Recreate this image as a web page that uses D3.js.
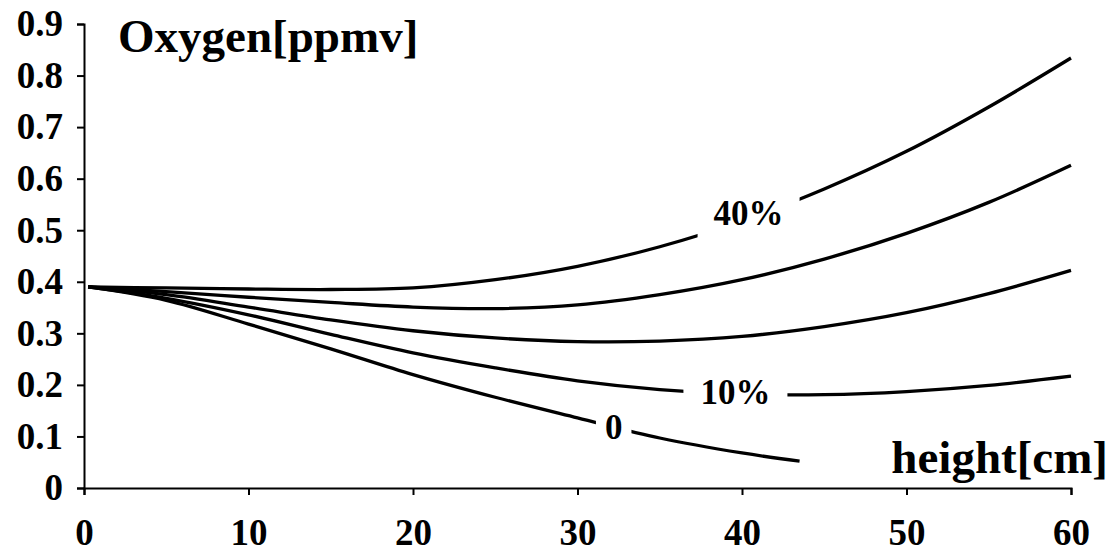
<!DOCTYPE html>
<html>
<head>
<meta charset="utf-8">
<script src="https://cdn.jsdelivr.net/npm/d3@7"></script>
<style>
  html, body { margin: 0; padding: 0; background: #fff; }
  svg { display: block; }
  text { font-family: "Liberation Serif", "Times New Roman", Times, serif; font-weight: bold; fill: #000; }
</style>
</head>
<body>
<div id="chart"></div>
<script>
// ---- data ----
const xValues = [0.25, 5, 10, 15, 20, 25, 30, 35, 40, 45, 50, 55, 60];
const series40 = [0.390, 0.388, 0.386, 0.385, 0.388, 0.404, 0.430, 0.468, 0.518, 0.580, 0.653, 0.739, 0.834];
const series30 = [0.390, 0.381, 0.370, 0.360, 0.351, 0.348, 0.355, 0.375, 0.404, 0.444, 0.494, 0.554, 0.626];
const series20 = [0.390, 0.375, 0.351, 0.326, 0.305, 0.291, 0.284, 0.285, 0.294, 0.313, 0.340, 0.377, 0.422];
const series10 = [0.390, 0.368, 0.336, 0.298, 0.262, 0.233, 0.208, 0.191, 0.182, 0.181, 0.187, 0.199, 0.217];
const xValues0 = [0.25, 5, 10, 15, 20, 25, 30, 35, 40, 43.5];
const series0  = [0.390, 0.364, 0.318, 0.270, 0.220, 0.176, 0.136, 0.097, 0.068, 0.052];

const xTicks = [0, 10, 20, 30, 40, 50, 60];
const yTicks = [0, 0.1, 0.2, 0.3, 0.4, 0.5, 0.6, 0.7, 0.8, 0.9];
const yTickLabels = ["0", "0.1", "0.2", "0.3", "0.4", "0.5", "0.6", "0.7", "0.8", "0.9"];

const curveLabels = ["40%", "10%", "0"];
const curveLabelX = [40.4, 39.6, 32.2];
const curveLabelY = [0.533, 0.186, 0.118];
const curveLabelPad = [16, 17, 9];

const yTitle = "Oxygen[ppmv]";
const xTitle = "height[cm]";

// ---- layout ----
const W = 1116, H = 553;
const margin = { left: 84, right: 45, top: 24, bottom: 65 };

const svg = d3.select("#chart").append("svg").attr("width", W).attr("height", H);

const x = d3.scaleLinear().domain([0, 60]).range([margin.left, W - margin.right]);
const y = d3.scaleLinear().domain([0, 0.9]).range([H - margin.bottom, margin.top]);

// axes
const xAxis = d3.axisBottom(x).tickValues(xTicks).tickFormat(d3.format("d")).tickSizeOuter(0).tickSize(7).tickPadding(24);
const yAxis = d3.axisLeft(y).tickValues(yTicks).tickFormat((d, i) => yTickLabels[i]).tickSizeOuter(0).tickSize(7).tickPadding(14);

const gx = svg.append("g").attr("transform", `translate(0,${y(0)})`).call(xAxis);
const gy = svg.append("g").attr("transform", `translate(${x(0)},0)`).call(yAxis);
[gx, gy].forEach(g => {
  g.selectAll("path.domain").attr("stroke", "#000").attr("stroke-width", 2);
  g.selectAll(".tick line").attr("stroke", "#000").attr("stroke-width", 2);
  g.selectAll(".tick text").style("font-size", "37px").style("font-family", '"Liberation Serif", "Times New Roman", serif').style("font-weight", "bold").attr("fill", "#000");
});

// curves
const line = d3.line().x(d => x(d[0])).y(d => y(d[1])).curve(d3.curveCatmullRom.alpha(0.5));
const allSeries = [
  d3.zip(xValues, series40),
  d3.zip(xValues, series30),
  d3.zip(xValues, series20),
  d3.zip(xValues, series10),
  d3.zip(xValues0, series0)
];
svg.append("g").selectAll("path").data(allSeries).join("path")
  .attr("d", line)
  .attr("fill", "none")
  .attr("stroke", "#000")
  .attr("stroke-width", 3.3);

// curve labels with white gap behind
const lg = svg.append("g");
curveLabels.forEach((t, i) => {
  const g = lg.append("g");
  const txt = g.append("text")
    .attr("x", x(curveLabelX[i]))
    .attr("y", y(curveLabelY[i]))
    .attr("dy", "0.35em")
    .attr("text-anchor", "middle")
    .style("font-size", "35px")
    .text(t);
  const bb = txt.node().getBBox();
  g.insert("rect", "text")
    .attr("x", bb.x - curveLabelPad[i])
    .attr("y", bb.y - 6)
    .attr("width", bb.width + 2 * curveLabelPad[i])
    .attr("height", bb.height + 12)
    .attr("fill", "#fff");
});

// titles
svg.append("text")
  .attr("x", 118).attr("y", 52)
  .style("font-size", "47px")
  .text(yTitle);
svg.append("text")
  .attr("x", 1108).attr("y", 473)
  .attr("text-anchor", "end")
  .style("font-size", "47px")
  .text(xTitle);
</script>
</body>
</html>
